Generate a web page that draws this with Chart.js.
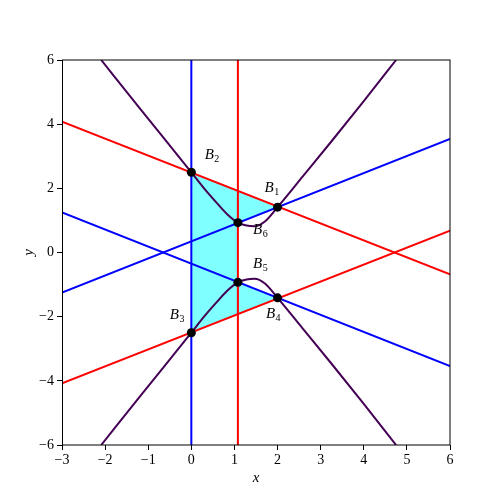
<!DOCTYPE html>
<html>
<head>
<meta charset="utf-8">
<script src="https://cdn.jsdelivr.net/npm/chart.js@4.4.0/dist/chart.umd.min.js"></script>
<style>
  html, body { margin: 0; padding: 0; background: #fff; }
</style>
</head>
<body>
<canvas id="myChart" width="500" height="500"></canvas>
<script>
// purple curves
const curveX = [-2.09, -1.2, 0, 0.3, 0.62, 0.85, 1.08, 1.28, 1.47, 1.7, 2.0, 2.59, 3.29, 4.0, 4.75];
const upperY = [6.0, 4.5, 2.5, 1.99, 1.5, 1.17, 0.93, 0.84, 0.82, 0.96, 1.414, 2.38, 3.53, 4.72, 6.0];
const lowerY = [-6.0, -4.5, -2.5, -1.99, -1.5, -1.17, -0.93, -0.84, -0.82, -0.96, -1.414, -2.38, -3.53, -4.72, -6.0];

// straight lines, two end points each
const redLines = [
  [[-3, 4.08], [6, -0.68]],
  [[-3, -4.08], [6, 0.68]],
  [[1.08, -6], [1.08, 6]]
];
const blueLines = [
  [[-3, -1.25], [6, 3.54]],
  [[-3, 1.25], [6, -3.54]],
  [[0, -6], [0, 6]]
];

// marked points B1..B6 and where their labels sit
const pointNames = ["B1", "B2", "B3", "B4", "B5", "B6"];
const pointX = [2, 0, 0, 2, 1.08, 1.08];
const pointY = [1.414, 2.5, -2.5, -1.414, -0.93, 0.93];
const labelX = [1.70, 0.31, -0.50, 1.73, 1.43, 1.43];
const labelY = [1.89, 2.90, -2.07, -2.05, -0.49, 0.57];

// shaded region goes B2 -> B1 -> B6 -> B5 -> B4 -> B3
const regionOrder = [1, 0, 5, 4, 3, 2];

const xTicks = [-3, -2, -1, 0, 1, 2, 3, 4, 5, 6];
const yTicks = [-6, -4, -2, 0, 2, 4, 6];

const SERIF = "'Liberation Serif', 'DejaVu Serif', serif";

function fmt(v) {
  return v < 0 ? "\u2212" + Math.abs(v) : String(v);
}

function lineSet(ends, color) {
  return {
    data: ends.map(function (p) { return { x: p[0], y: p[1] }; }),
    showLine: true,
    borderColor: color,
    borderWidth: 2,
    pointRadius: 0,
    fill: false,
    order: 2
  };
}

function curveSet(ys) {
  return {
    data: curveX.map(function (x, i) { return { x: x, y: ys[i] }; }),
    showLine: true,
    borderColor: "#440154",
    borderWidth: 2,
    pointRadius: 0,
    cubicInterpolationMode: "monotone",
    fill: false,
    order: 1
  };
}

let regionPts = regionOrder.map(function (i) { return { x: pointX[i], y: pointY[i] }; });
regionPts.push({ x: pointX[regionOrder[0]], y: pointY[regionOrder[0]] });

let datasets = [];
datasets.push({
  data: regionPts,
  showLine: true,
  borderWidth: 0,
  borderColor: "rgba(0,0,0,0)",
  backgroundColor: "rgba(0,255,255,0.5)",
  pointRadius: 0,
  fill: "shape",
  order: 4
});
for (const l of redLines) datasets.push(lineSet(l, "#ff0000"));
for (const l of blueLines) datasets.push(lineSet(l, "#0000ff"));
datasets.push(curveSet(upperY));
datasets.push(curveSet(lowerY));
datasets.push({
  data: pointX.map(function (x, i) { return { x: x, y: pointY[i] }; }),
  pointRadius: 4.5,
  pointBackgroundColor: "#000",
  pointBorderWidth: 0,
  order: 0
});

// box round the plot, like matplotlib spines
const framePlugin = {
  id: "frame",
  afterDatasetsDraw(chart) {
    const a = chart.chartArea;
    const ctx = chart.ctx;
    ctx.save();
    ctx.strokeStyle = "#000";
    ctx.lineWidth = 1;
    ctx.strokeRect(a.left + 0.5, a.top, a.right - a.left - 0.5, a.bottom - a.top);
    ctx.restore();
  }
};

// B_i labels with subscripts
const labelPlugin = {
  id: "pointLabels",
  afterDatasetsDraw(chart) {
    const ctx = chart.ctx;
    const xs = chart.scales.x, ys = chart.scales.y;
    ctx.save();
    ctx.fillStyle = "#000";
    ctx.textAlign = "left";
    ctx.textBaseline = "alphabetic";
    for (let i = 0; i < pointNames.length; i++) {
      const px = xs.getPixelForValue(labelX[i]);
      const py = ys.getPixelForValue(labelY[i]);
      const main = pointNames[i].slice(0, 1);
      const sub = pointNames[i].slice(1);
      ctx.font = "italic 15px " + SERIF;
      ctx.fillText(main, px, py);
      const w = ctx.measureText(main).width;
      ctx.font = "10px " + SERIF;
      ctx.fillText(sub, px + w + 0.5, py + 3);
    }
    ctx.restore();
  }
};

const config = {
  type: "scatter",
  data: { datasets: datasets },
  options: {
    responsive: false,
    animation: false,
    devicePixelRatio: 1,
    layout: { padding: { left: 20, right: 50, top: 60, bottom: 13 } },
    plugins: {
      legend: { display: false },
      tooltip: { enabled: false }
    },
    scales: {
      x: {
        type: "linear",
        min: -3,
        max: 6,
        afterBuildTicks: function (s) { s.ticks = xTicks.map(function (v) { return { value: v }; }); },
        afterFit: function (s) { s.height = 42; },
        border: { display: false },
        grid: { drawOnChartArea: false, drawTicks: true, tickLength: 5, tickColor: "#000", tickWidth: 1 },
        ticks: { color: "#000", font: { family: SERIF, size: 14 }, padding: 2, maxRotation: 0, callback: fmt },
        title: { display: true, text: "x", color: "#000", font: { family: SERIF, size: 15, style: "italic" }, padding: 0 }
      },
      y: {
        type: "linear",
        min: -6,
        max: 6,
        afterBuildTicks: function (s) { s.ticks = yTicks.map(function (v) { return { value: v }; }); },
        afterFit: function (s) { s.width = 42; },
        border: { display: false },
        grid: { drawOnChartArea: false, drawTicks: true, tickLength: 5, tickColor: "#000", tickWidth: 1 },
        ticks: { color: "#000", font: { family: SERIF, size: 14 }, padding: 3, callback: fmt },
        title: { display: true, text: "y", color: "#000", font: { family: SERIF, size: 15, style: "italic" }, padding: 0 }
      }
    }
  },
  plugins: [framePlugin, labelPlugin]
};

const myChart = new Chart(document.getElementById("myChart"), config);
</script>
</body>
</html>
